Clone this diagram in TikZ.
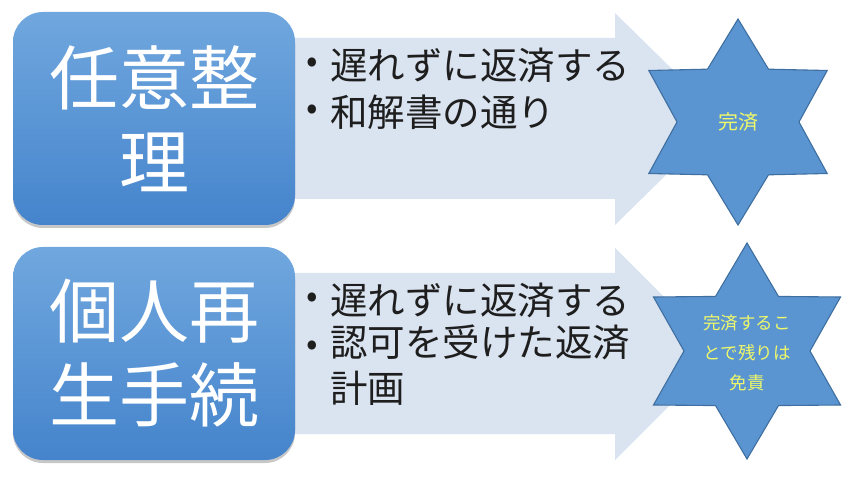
\documentclass[tikz,border=0pt]{standalone}
\usepackage{fontspec}
\setmainfont{Noto Sans CJK JP}
\usetikzlibrary{shadows}
\definecolor{arrowfill}{HTML}{DAE3F0}
\definecolor{boxtop}{HTML}{70A7DE}
\definecolor{boxbot}{HTML}{4584CC}
\definecolor{starfill}{HTML}{5B95D1}
\definecolor{starline}{HTML}{3F6FA0}
\definecolor{startext}{HTML}{EEF86A}
\definecolor{bodytext}{HTML}{1E1E1E}
\tikzset{
  arrowshape/.style={fill=arrowfill},
  boxstyle/.style={rounded corners=30pt, top color=boxtop, bottom color=boxbot,
    minimum width=282pt, minimum height=213pt, inner sep=0pt, align=center,
    text=white, font=\fontsize{70}{84}\selectfont,
    drop shadow={shadow xshift=0pt, shadow yshift=-3pt, fill=black, opacity=0.22}},
  starshape/.style={fill=starfill, draw=starline, line width=1.1pt, line join=miter},
  startxt/.style={text=startext, align=center, inner sep=0pt},
  bullettxt/.style={text=bodytext, anchor=west, inner sep=0pt, align=left,
    font=\fontsize{37.5}{46}\selectfont},
  bulletdot/.style={text=bodytext, inner sep=0pt, font=\fontsize{34}{34}\selectfont}
}
\begin{document}
\begin{tikzpicture}[x=1pt,y=1pt]
\useasboundingbox (0,0) rectangle (842,498);
% arrows
\fill[arrowshape] (250,460) -- (615,460) -- (615,485) -- (723,379) -- (615,273) -- (615,299) -- (250,299) -- cycle;
\fill[arrowshape] (250,225) -- (615,225) -- (615,250) -- (721,144) -- (615,38) -- (615,64) -- (250,64) -- cycle;
% boxes
\node[boxstyle] (box1) at (154,379.5) {任意整\\理};
\node[boxstyle] (box2) at (154,144.5) {個人再\\生手続};
% bullet items
\node[bulletdot] (d1) at (312,433) {•};
\node[bullettxt] (t1) at (330,433) {遅れずに返済する};
\node[bulletdot] (d2) at (312,386) {•};
\node[bullettxt] (t2) at (330,386) {和解書の通り};
\node[bulletdot] (d3) at (312,198) {•};
\node[bullettxt] (t3) at (330,198) {遅れずに返済する};
\node[bulletdot] (d4) at (312,150) {•};
\node[bullettxt, anchor=north west] (t4) at (330,173) {認可を受けた返済\\計画};
% stars
\draw[starshape, shift={(738,376)}] (90:103) -- (120:61) -- (150:103) -- (180:61) -- (210:103) -- (240:61) -- (270:103) -- (300:61) -- (330:103) -- (0:61) -- (30:103) -- (60:61) -- cycle;
\node[startxt, font=\fontsize{20}{24}\selectfont] (s1) at (738,376) {完済};
\draw[starshape, shift={(747,147)}] (90:108) -- (120:63) -- (150:108) -- (180:63) -- (210:108) -- (240:63) -- (270:108) -- (300:63) -- (330:108) -- (0:63) -- (30:108) -- (60:63) -- cycle;
\node[startxt, font=\fontsize{17.5}{30}\selectfont] (s2) at (747,145) {完済するこ\\とで残りは\\免責};
\end{tikzpicture}
\end{document}
